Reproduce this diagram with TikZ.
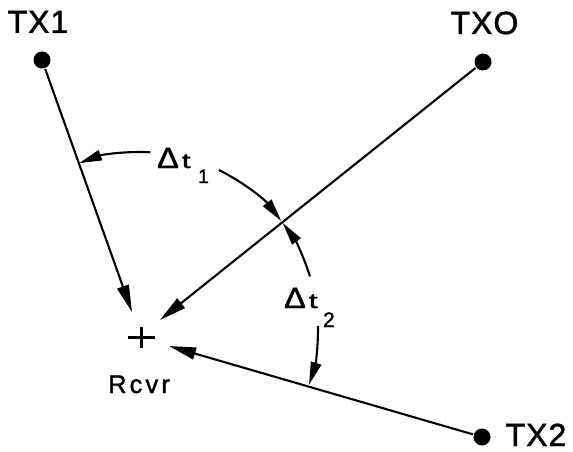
\documentclass[tikz,border=0pt]{standalone}
\usepackage{fontspec}
\setmainfont{Liberation Sans}[FakeBold=1.5]
\usetikzlibrary{arrows.meta}
\newcommand{\dtlabel}{\scalebox{1.55}[1.4]{Δ}\kern3pt\scalebox{1.5}[1]{t}}
\begin{document}
\begin{tikzpicture}[x=1pt,y=1pt,
  line width=2.1pt,
  dotnode/.style={circle,fill=black,inner sep=0pt,minimum size=17pt},
  txlabel/.style={inner sep=0pt,anchor=base,font=\fontsize{32}{32}\selectfont\addfontfeature{LetterSpace=3}},
  sublabel/.style={inner sep=0pt,anchor=base west,font=\fontsize{21}{21}\selectfont},
  ray/.style={-{Triangle[length=27pt,width=12pt]}},
  arcarrow/.style={{Triangle[length=23pt,width=10.5pt]}-},
  arcarrowend/.style={-{Triangle[length=23pt,width=10.5pt]}}
]
\useasboundingbox (0,0) rectangle (573,451);
% transmitters
\node[dotnode] (tx1) at (42,391) {};
\node[dotnode] (tx0) at (483,389) {};
\node[dotnode] (tx2) at (482,14) {};
\node[txlabel] (l1) at (38,418) {TX1};
\node[txlabel] (l0) at (484.5,417) {TXO};
\node[txlabel] (l2) at (536,5) {TX2};
% receiver
\coordinate (ph1) at (128,113.5);
\coordinate (ph2) at (155,113.5);
\coordinate (pv1) at (141.5,124);
\coordinate (pv2) at (141.5,103);
\draw[line width=3.2pt] (ph1) -- (ph2);
\draw[line width=3.2pt] (pv1) -- (pv2);
\node[inner sep=0pt,anchor=base,font=\fontsize{25.5}{25}\selectfont\addfontfeature{LetterSpace=12}] (rl) at (139,58) {Rcvr};
% ray end points
\coordinate (e1) at (132,139);
\coordinate (e0) at (160,131);
\coordinate (e2) at (169,105);
\draw[ray] (tx1) -- (e1);
\draw[ray] (tx0) -- (e0);
\draw[ray] (tx2) -- (e2);
% arcs centred near the receiver
\coordinate (ac) at (141,122);
\draw[arcarrow] ([shift={(110.5:177pt)}]ac) arc[start angle=110.5,end angle=87,radius=177pt];
\draw[arcarrowend] ([shift={(63.9:177pt)}]ac) arc[start angle=63.9,end angle=37.6,radius=177pt];
\draw[arcarrow] ([shift={(36.8:177pt)}]ac) arc[start angle=36.8,end angle=17.3,radius=177pt];
\draw[arcarrowend] ([shift={(1:177pt)}]ac) arc[start angle=1,end angle=-18.4,radius=177pt];
% labels
\node[sublabel] (d1) at (156,283) {\dtlabel};
\node[sublabel,font=\fontsize{19.5}{19}\selectfont] (s1) at (197,268) {1};
\node[sublabel] (d2) at (283,143) {\dtlabel};
\node[sublabel,font=\fontsize{21}{20}\selectfont] (s2) at (322,124) {2};
\end{tikzpicture}
\end{document}
